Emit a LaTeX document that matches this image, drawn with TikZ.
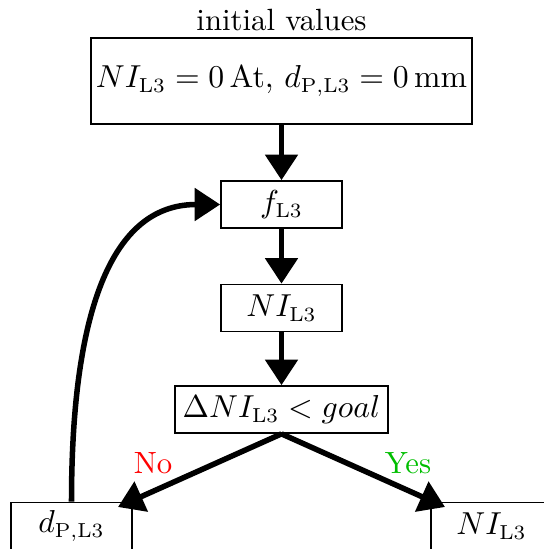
\documentclass[tikz,border=0pt]{standalone}
\usetikzlibrary{arrows.meta,calc}
\begin{document}
\begin{tikzpicture}[x=0.345pt,y=-0.345pt,
  every node/.style={font=\fontsize{10.6pt}{12.7pt}\selectfont},
  box/.style={draw,semithick,inner sep=1pt,minimum width=41.7pt,minimum height=16.2pt},
  flow/.style={line width=1.9pt,-{Triangle[length=8.8pt,width=11pt]}},
  lab/.style={inner sep=0pt}]
\useasboundingbox (0,0) rectangle (544,549);
\clip (0,0) rectangle (544,549);
\node[box,minimum width=131.4pt,minimum height=29.7pt] (init) at (281.5,81) {$NI_{\mathrm{L3}}=0\,\mathrm{At},\, d_{\mathrm{P,L3}}=0\,\mathrm{mm}$};
\node[lab] (title) at (281.5,20) {initial values};
\node[box] (f) at (281.5,204.5) {$f_{\mathrm{L3}}$};
\node[box] (ni) at (281.5,308) {$NI_{\mathrm{L3}}$};
\node[box,minimum width=73.5pt] (delta) at (281.5,409.5) {$\Delta NI_{\mathrm{L3}} < goal$};
\node[box] (dp) at (71.5,526) {$d_{\mathrm{P,L3}}$};
\node[box] (nio) at (491.5,526) {$NI_{\mathrm{L3}}$};
\coordinate (noend) at (118,507);
\coordinate (yesend) at (445,507);
\node[lab,text=red] (no) at (153,463) {No};
\node[lab,text={rgb,255:red,0;green,190;blue,0}] (yes) at (408,463) {Yes};
\draw[flow] (init.south) -- (f.north);
\draw[flow] (f.south) -- (ni.north);
\draw[flow] (ni.south) -- (delta.north);
\draw[flow] (delta.south) -- (noend);
\draw[flow] (delta.south) -- (yesend);
\draw[flow] (dp.north) to[out=90,in=180] (f.west);
\end{tikzpicture}
\end{document}
